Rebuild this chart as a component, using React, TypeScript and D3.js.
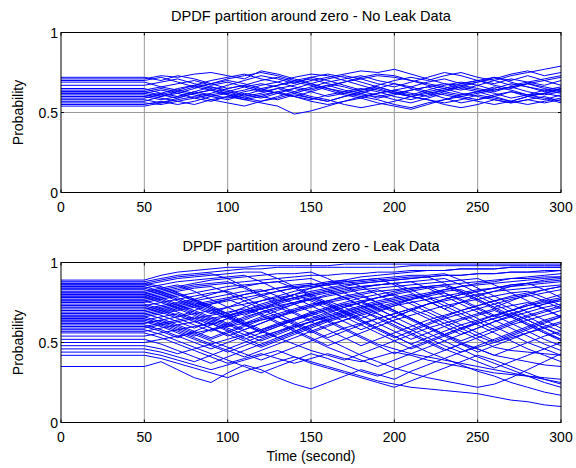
import React from "react";
import * as d3 from "d3";

// sample times (seconds): t=0 and every 10 s from 50 to 300
const times = [0, 50, 60, 70, 80, 90, 100, 110, 120, 130, 140, 150, 160, 170, 180, 190, 200, 210, 220, 230, 240, 250, 260, 270, 280, 290, 300];
const xTicks = [0, 50, 100, 150, 200, 250, 300];
const yTicks = [0, 0.5, 1];
const yTickLabels = ["0", "0.5", "1"];
const titles = ["DPDF partition around zero - No Leak Data", "DPDF partition around zero - Leak Data"];
const yLabel = "Probability";
const xLabel = "Time (second)";

// probability in percent, one row per run
const noLeakRuns = [
  [72, 72, 70, 73, 71, 68, 65, 67, 64, 62, 60, 63, 66, 69, 71, 73, 72, 70, 68, 66, 64, 67, 70, 73, 75, 77, 79],
  [71, 71, 73, 72, 74, 75, 73, 71, 76, 74, 71, 68, 65, 63, 61, 60, 62, 64, 66, 68, 67, 65, 63, 66, 68, 65, 63],
  [69, 69, 66, 64, 67, 70, 72, 74, 71, 69, 72, 74, 73, 70, 67, 64, 62, 60, 63, 65, 68, 70, 72, 69, 66, 64, 66],
  [67, 67, 69, 71, 68, 66, 63, 60, 62, 65, 67, 70, 72, 74, 76, 75, 77, 74, 71, 68, 65, 63, 66, 64, 61, 62, 60],
  [65, 65, 62, 60, 63, 66, 64, 61, 59, 62, 65, 63, 60, 62, 64, 67, 70, 72, 70, 73, 75, 72, 70, 67, 69, 71, 73],
  [64, 64, 66, 68, 70, 67, 69, 66, 63, 65, 62, 59, 57, 60, 62, 59, 61, 64, 66, 63, 61, 63, 65, 68, 66, 63, 65],
  [63, 63, 61, 64, 62, 60, 58, 61, 64, 67, 69, 71, 68, 66, 63, 61, 58, 56, 59, 62, 60, 58, 60, 63, 61, 64, 62],
  [62, 62, 64, 62, 59, 57, 60, 58, 56, 54, 49, 51, 54, 57, 59, 62, 64, 66, 69, 71, 68, 70, 67, 65, 68, 66, 64],
  [61, 61, 59, 57, 55, 58, 60, 63, 65, 62, 60, 57, 55, 57, 60, 58, 55, 53, 56, 58, 61, 63, 60, 57, 55, 57, 59],
  [60, 60, 62, 65, 67, 65, 62, 64, 67, 69, 66, 64, 67, 69, 72, 74, 73, 70, 67, 65, 62, 60, 58, 56, 58, 56, 58],
  [59, 59, 61, 59, 62, 64, 61, 59, 57, 59, 62, 65, 67, 64, 62, 65, 68, 66, 63, 61, 59, 57, 55, 57, 60, 62, 64],
  [58, 58, 56, 58, 60, 62, 65, 67, 70, 72, 69, 67, 64, 61, 59, 56, 54, 52, 55, 58, 60, 62, 64, 66, 63, 61, 63],
  [57, 57, 60, 63, 61, 58, 56, 54, 57, 60, 63, 60, 58, 55, 53, 55, 57, 60, 58, 55, 53, 55, 58, 56, 58, 60, 57],
  [56, 56, 55, 57, 59, 61, 63, 66, 68, 66, 63, 66, 69, 71, 73, 70, 68, 65, 62, 64, 67, 69, 71, 74, 76, 73, 75],
  [55, 55, 57, 55, 57, 60, 62, 59, 61, 63, 60, 58, 61, 63, 65, 63, 60, 58, 61, 64, 66, 64, 62, 59, 61, 59, 56],
  [54, 54, 56, 59, 62, 64, 67, 70, 73, 71, 68, 72, 74, 72, 69, 66, 63, 60, 62, 59, 56, 58, 61, 63, 60, 62, 65],
  [63, 63, 65, 63, 66, 68, 71, 73, 75, 73, 70, 68, 65, 62, 60, 62, 64, 62, 60, 63, 66, 69, 72, 70, 73, 70, 67],
  [70, 70, 72, 69, 66, 64, 61, 58, 60, 63, 65, 68, 71, 73, 71, 68, 66, 69, 72, 75, 73, 70, 68, 71, 69, 67, 70],
  [60, 60, 58, 60, 63, 61, 59, 62, 60, 58, 61, 59, 57, 60, 63, 65, 62, 60, 58, 56, 58, 61, 59, 57, 60, 58, 61],
  [62, 62, 60, 62, 65, 68, 70, 68, 65, 67, 70, 72, 70, 67, 64, 66, 63, 61, 64, 67, 69, 67, 64, 66, 68, 70, 72],
];

const leakRuns = [
  [89, 89, 92, 94, 95, 96, 97, 97, 98, 98, 98, 98, 98, 99, 99, 99, 99, 99, 99, 99, 99, 99, 99, 99, 99, 99, 99],
  [88, 88, 90, 92, 93, 94, 95, 96, 96, 97, 97, 97, 97, 97, 97, 97, 97, 98, 98, 98, 98, 98, 98, 98, 98, 98, 98],
  [87, 87, 89, 91, 92, 93, 90, 85, 80, 76, 80, 84, 87, 89, 91, 92, 93, 94, 95, 95, 96, 96, 96, 97, 97, 97, 97],
  [86, 86, 84, 80, 76, 72, 68, 72, 76, 79, 82, 84, 86, 88, 89, 90, 86, 81, 76, 71, 75, 79, 82, 85, 87, 89, 90],
  [86, 86, 88, 90, 91, 92, 93, 94, 94, 90, 85, 80, 75, 70, 65, 69, 73, 77, 80, 83, 85, 87, 88, 90, 91, 92, 93],
  [85, 85, 82, 78, 74, 70, 66, 62, 66, 70, 74, 77, 80, 82, 84, 86, 87, 88, 89, 90, 86, 81, 76, 71, 66, 61, 57],
  [84, 84, 86, 88, 89, 90, 91, 92, 88, 83, 78, 73, 68, 63, 58, 62, 66, 70, 74, 77, 80, 82, 84, 86, 87, 83, 78],
  [83, 83, 80, 76, 72, 68, 72, 76, 79, 82, 84, 86, 88, 89, 85, 80, 75, 70, 65, 60, 55, 59, 63, 67, 71, 74, 77],
  [82, 82, 84, 86, 82, 77, 72, 67, 71, 75, 78, 81, 83, 85, 87, 88, 89, 90, 91, 92, 92, 93, 93, 94, 94, 95, 95],
  [81, 81, 78, 74, 70, 66, 62, 58, 62, 66, 70, 73, 76, 79, 81, 83, 79, 74, 69, 64, 59, 54, 50, 54, 58, 62, 66],
  [80, 80, 82, 84, 86, 87, 88, 84, 79, 74, 69, 64, 68, 72, 75, 78, 81, 83, 85, 86, 82, 77, 72, 67, 62, 57, 52],
  [79, 79, 76, 72, 68, 64, 60, 64, 68, 71, 74, 77, 73, 68, 63, 58, 53, 57, 61, 65, 68, 71, 74, 77, 79, 81, 83],
  [79, 79, 81, 83, 85, 86, 87, 88, 89, 90, 91, 92, 92, 93, 93, 94, 94, 95, 95, 95, 96, 96, 96, 97, 97, 97, 97],
  [78, 78, 75, 71, 67, 63, 59, 55, 51, 55, 59, 63, 67, 70, 73, 76, 78, 80, 76, 71, 66, 61, 56, 51, 46, 42, 38],
  [77, 77, 79, 81, 77, 72, 67, 62, 57, 61, 65, 69, 72, 75, 78, 80, 82, 84, 85, 81, 76, 71, 66, 70, 74, 77, 80],
  [76, 76, 73, 69, 65, 61, 65, 69, 72, 75, 78, 80, 82, 78, 73, 68, 63, 58, 53, 48, 44, 48, 52, 56, 60, 64, 67],
  [75, 75, 77, 79, 81, 83, 85, 86, 87, 88, 84, 79, 74, 69, 64, 59, 54, 49, 44, 40, 36, 32, 29, 25, 22, 19, 17],
  [74, 74, 71, 67, 63, 59, 55, 51, 47, 51, 55, 59, 63, 66, 69, 72, 75, 77, 79, 81, 77, 72, 67, 62, 57, 52, 48],
  [73, 73, 75, 77, 79, 81, 82, 78, 73, 68, 63, 58, 53, 57, 61, 65, 68, 71, 74, 76, 78, 80, 82, 83, 84, 85, 86],
  [72, 72, 69, 65, 61, 57, 61, 65, 69, 72, 75, 78, 74, 69, 64, 59, 54, 49, 53, 57, 61, 64, 67, 70, 73, 75, 77],
  [71, 71, 73, 75, 77, 73, 68, 63, 58, 53, 57, 61, 65, 68, 71, 74, 76, 78, 80, 82, 83, 79, 74, 69, 64, 59, 55],
  [70, 70, 67, 63, 59, 63, 67, 70, 73, 76, 78, 80, 82, 84, 85, 86, 87, 88, 84, 79, 74, 69, 64, 59, 54, 49, 45],
  [69, 69, 71, 73, 75, 71, 66, 61, 56, 60, 64, 68, 71, 74, 70, 65, 60, 55, 50, 45, 49, 53, 57, 61, 64, 67, 70],
  [68, 68, 65, 61, 57, 53, 57, 61, 65, 68, 71, 74, 76, 78, 80, 82, 83, 84, 85, 86, 87, 88, 89, 90, 90, 91, 91],
  [67, 67, 69, 71, 73, 75, 77, 73, 68, 63, 58, 53, 48, 52, 56, 60, 64, 67, 70, 73, 75, 77, 79, 81, 82, 78, 73],
  [66, 66, 63, 59, 55, 51, 47, 43, 39, 43, 47, 51, 55, 59, 62, 65, 68, 71, 67, 62, 57, 52, 47, 45, 44, 43, 42],
  [66, 66, 68, 70, 72, 74, 76, 78, 80, 82, 84, 85, 86, 87, 88, 89, 90, 91, 91, 92, 92, 93, 93, 94, 94, 94, 95],
  [65, 65, 62, 58, 54, 58, 62, 66, 69, 72, 68, 63, 58, 53, 48, 52, 56, 60, 64, 67, 70, 73, 76, 78, 80, 76, 71],
  [64, 64, 66, 68, 64, 59, 54, 58, 62, 66, 69, 72, 75, 77, 79, 75, 70, 65, 60, 55, 50, 46, 42, 40, 38, 36, 35],
  [63, 63, 60, 56, 52, 48, 44, 48, 52, 56, 60, 63, 66, 69, 72, 74, 70, 65, 60, 55, 59, 63, 67, 70, 73, 76, 78],
  [62, 62, 64, 66, 68, 70, 72, 74, 76, 78, 80, 76, 71, 66, 61, 56, 51, 46, 50, 54, 58, 62, 65, 68, 71, 74, 76],
  [61, 61, 58, 54, 50, 46, 50, 54, 58, 62, 65, 68, 71, 74, 76, 78, 80, 82, 84, 85, 81, 76, 71, 66, 61, 56, 52],
  [60, 60, 62, 64, 66, 62, 57, 52, 56, 60, 64, 67, 70, 73, 75, 71, 66, 61, 56, 51, 46, 41, 37, 33, 29, 25, 22],
  [60, 60, 57, 53, 57, 61, 65, 68, 71, 74, 77, 79, 81, 83, 85, 86, 87, 83, 78, 73, 68, 63, 58, 62, 66, 69, 72],
  [59, 59, 61, 63, 65, 67, 69, 71, 67, 62, 57, 52, 47, 43, 39, 35, 39, 43, 47, 51, 55, 59, 63, 66, 69, 72, 74],
  [58, 58, 55, 51, 47, 43, 39, 35, 31, 35, 39, 43, 40, 36, 32, 29, 33, 37, 41, 45, 49, 46, 42, 46, 50, 54, 57],
  [57, 57, 59, 61, 63, 65, 67, 69, 71, 73, 75, 77, 79, 81, 83, 84, 85, 86, 87, 88, 89, 90, 86, 81, 76, 71, 66],
  [54, 54, 56, 58, 60, 62, 58, 53, 48, 52, 56, 60, 64, 67, 70, 73, 69, 64, 59, 54, 49, 44, 48, 52, 56, 60, 63],
  [52, 52, 49, 45, 41, 37, 41, 45, 49, 53, 57, 61, 64, 67, 70, 66, 61, 56, 51, 46, 42, 38, 34, 38, 42, 46, 50],
  [50, 50, 52, 54, 56, 58, 60, 62, 64, 66, 62, 57, 52, 47, 42, 38, 34, 31, 28, 26, 24, 22, 24, 28, 33, 38, 43],
  [48, 48, 46, 43, 46, 49, 52, 55, 58, 61, 64, 67, 63, 58, 53, 48, 43, 47, 51, 55, 59, 62, 65, 68, 64, 59, 54],
  [46, 46, 44, 41, 38, 42, 46, 50, 54, 57, 60, 63, 66, 69, 72, 75, 77, 79, 81, 83, 85, 86, 87, 88, 89, 90, 91],
  [44, 44, 42, 39, 36, 33, 36, 39, 42, 45, 41, 37, 34, 31, 28, 25, 22, 26, 30, 34, 38, 42, 39, 35, 31, 27, 24],
  [42, 42, 40, 37, 34, 31, 28, 32, 35, 38, 41, 38, 35, 32, 29, 26, 24, 22, 21, 20, 19, 18, 16, 14, 13, 11, 10],
  [35, 35, 38, 33, 28, 25, 31, 36, 33, 28, 24, 21, 25, 29, 33, 30, 27, 32, 36, 40, 44, 47, 50, 53, 56, 59, 62],
  [87, 87, 85, 81, 77, 80, 83, 85, 87, 88, 89, 90, 86, 81, 76, 71, 66, 70, 74, 77, 80, 82, 84, 86, 87, 88, 89],
  [84, 84, 81, 77, 73, 69, 65, 61, 57, 53, 49, 45, 42, 39, 43, 47, 51, 55, 59, 62, 65, 68, 71, 73, 75, 71, 66],
  [81, 81, 83, 85, 87, 89, 90, 91, 92, 93, 93, 94, 90, 85, 80, 75, 70, 65, 60, 55, 51, 55, 59, 63, 67, 70, 73],
  [78, 78, 80, 82, 84, 85, 81, 76, 71, 66, 61, 56, 60, 64, 68, 71, 74, 77, 79, 75, 70, 65, 60, 55, 50, 46, 42],
  [76, 76, 78, 80, 76, 71, 66, 70, 74, 77, 80, 82, 84, 86, 87, 88, 89, 90, 91, 87, 82, 77, 72, 76, 80, 83, 85],
  [73, 73, 70, 66, 70, 74, 77, 80, 82, 84, 86, 87, 83, 78, 73, 68, 63, 58, 62, 66, 70, 73, 76, 79, 81, 83, 85],
  [70, 70, 72, 74, 76, 78, 80, 82, 83, 79, 74, 69, 64, 59, 54, 49, 46, 43, 41, 39, 37, 35, 33, 31, 29, 27, 25],
  [68, 68, 70, 72, 74, 76, 78, 80, 82, 84, 85, 86, 87, 88, 89, 90, 91, 92, 92, 93, 89, 84, 79, 74, 69, 64, 59],
  [64, 64, 61, 57, 53, 49, 45, 41, 45, 49, 53, 57, 61, 64, 67, 70, 73, 75, 77, 79, 81, 83, 84, 85, 86, 87, 88],
  [62, 62, 64, 60, 56, 52, 56, 60, 64, 67, 70, 73, 76, 72, 67, 62, 57, 52, 56, 60, 64, 67, 70, 66, 61, 56, 51],
  [56, 56, 53, 49, 45, 41, 37, 40, 43, 40, 37, 40, 43, 40, 38, 41, 44, 42, 39, 37, 35, 33, 31, 30, 29, 28, 27],
  [80, 80, 77, 73, 69, 65, 61, 57, 53, 57, 61, 65, 69, 72, 75, 78, 80, 76, 71, 66, 61, 56, 51, 55, 59, 63, 66],
];

const W = 576;
const H = 468;
const FONT = "'Liberation Sans', Arial, sans-serif";
const LEFT = 61;
const RIGHT = 561;
const panelTops = [32.5, 262.5];
const PH = 160;

function Panel({ top, runs, title, showXLabel }: { top: number; runs: number[][]; title: string; showXLabel: boolean }) {
  const x = d3.scaleLinear().domain([0, 300]).range([LEFT, RIGHT]);
  const y = d3.scaleLinear().domain([0, 1]).range([top + PH, top]);
  const line = d3
    .line<number>()
    .x((_, i) => x(times[i]))
    .y((d) => y(d / 100));
  const tl = 3;
  return (
    <g>
      {xTicks.slice(1, -1).map((t) => (
        <line key={"gx" + t} x1={x(t)} x2={x(t)} y1={top} y2={top + PH} stroke="#9a9a9a" strokeWidth={1} />
      ))}
      <line x1={LEFT} x2={RIGHT} y1={y(0.5)} y2={y(0.5)} stroke="#9a9a9a" strokeWidth={1} />
      <g fill="none" stroke="#0000ff" strokeWidth={1}>
        {runs.map((r, i) => (
          <path key={i} d={line(r) || ""} />
        ))}
      </g>
      <rect x={LEFT} y={top} width={RIGHT - LEFT} height={PH} fill="none" stroke="#000" strokeWidth={1} />
      {xTicks.map((t) => (
        <g key={"tx" + t}>
          <line x1={x(t)} x2={x(t)} y1={top + PH} y2={top + PH - tl} stroke="#000" />
          <line x1={x(t)} x2={x(t)} y1={top} y2={top + tl} stroke="#000" />
          <text x={x(t)} y={top + PH + 19.5} textAnchor="middle" fontSize={14} fontFamily={FONT} fill="#000">
            {t}
          </text>
        </g>
      ))}
      {yTicks.map((t, i) => (
        <g key={"ty" + t}>
          <line x1={LEFT} x2={LEFT + tl} y1={y(t)} y2={y(t)} stroke="#000" />
          <line x1={RIGHT} x2={RIGHT - tl} y1={y(t)} y2={y(t)} stroke="#000" />
          <text x={LEFT - 3} y={y(t) + 5} textAnchor="end" fontSize={14} fontFamily={FONT} fill="#000">
            {yTickLabels[i]}
          </text>
        </g>
      ))}
      <text x={(LEFT + RIGHT) / 2} y={top - 12} textAnchor="middle" fontSize={14.6} fontFamily={FONT} fill="#000">
        {title}
      </text>
      <text
        transform={`translate(${23},${top + PH / 2}) rotate(-90)`}
        textAnchor="middle"
        fontSize={14}
        fontFamily={FONT}
        fill="#000"
      >
        {yLabel}
      </text>
      {showXLabel && (
        <text x={(LEFT + RIGHT) / 2} y={top + PH + 38} textAnchor="middle" fontSize={14} fontFamily={FONT} fill="#000">
          {xLabel}
        </text>
      )}
    </g>
  );
}

export default function App() {
  return (
    <svg width={W} height={H} style={{ position: "absolute", left: 0, top: 0, background: "#fff" }}>
      <rect width={W} height={H} fill="#fff" />
      <Panel top={panelTops[0]} runs={noLeakRuns} title={titles[0]} showXLabel={false} />
      <Panel top={panelTops[1]} runs={leakRuns} title={titles[1]} showXLabel={true} />
    </svg>
  );
}
